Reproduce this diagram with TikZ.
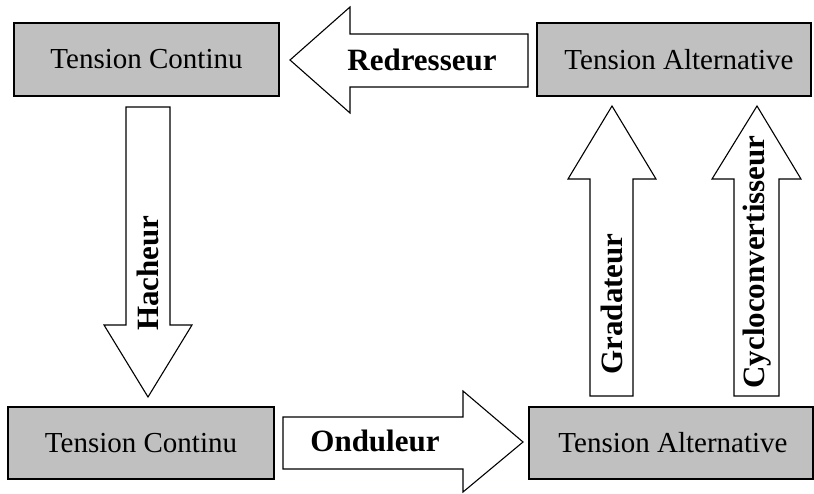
\documentclass[tikz,border=0pt]{standalone}
\usepackage{fontspec}
\setmainfont{Liberation Serif}
\definecolor{boxgray}{HTML}{C0C0C0}
\begin{document}
\begin{tikzpicture}[x=1pt,y=-1pt,
  box/.style={draw=black,line width=1.3pt,fill=boxgray,rectangle,inner sep=0pt,
    font=\fontsize{29}{34}\selectfont},
  barrow/.style={draw=black,line width=1.1pt,fill=white,line join=miter},
  blabel/.style={font=\fontsize{31}{36}\selectfont\bfseries,inner sep=0pt}]
\useasboundingbox (0,0) rectangle (814,493);
% boxes
\node[box,minimum width=265pt,minimum height=73pt] (tl) at (146.5,59.5) {Tension Continu};
\node[box,minimum width=274pt,minimum height=73pt] (tr) at (674,59.5) {\hspace*{10pt}Tension Alternative};
\node[box,minimum width=266pt,minimum height=72pt] (bl) at (141,443) {Tension Continu};
\node[box,minimum width=284pt,minimum height=72pt] (br) at (671,443) {\hspace*{4pt}Tension Alternative};
% Redresseur (left)
\draw[barrow] (290,60) -- (350,7) -- (350,34) -- (528,34) -- (528,87) -- (350,87) -- (350,113) -- cycle;
\node[blabel] (red) at (422,60) {Redresseur};
% Onduleur (right)
\draw[barrow] (283,417) -- (463,417) -- (463,391) -- (523,442) -- (463,492) -- (463,469) -- (283,469) -- cycle;
\node[blabel] (ond) at (375,441) {Onduleur};
% Hacheur (down)
\draw[barrow] (126,107) -- (170,107) -- (170,325) -- (192,325) -- (148,397) -- (104,325) -- (126,325) -- cycle;
\node[blabel,rotate=90] (hach) at (148,273) {Hacheur};
% Gradateur (up)
\draw[barrow] (590,396) -- (633,396) -- (633,179) -- (656,179) -- (612,106) -- (568,179) -- (590,179) -- cycle;
\node[blabel,rotate=90] (grad) at (612,304) {Gradateur};
% Cycloconvertisseur (up)
\draw[barrow] (734,396) -- (779,396) -- (779,179) -- (801,179) -- (757,106) -- (712,179) -- (734,179) -- cycle;
\node[blabel,rotate=90] (cyc) at (757,262) {Cycloconvertisseur};
\end{tikzpicture}
\end{document}
